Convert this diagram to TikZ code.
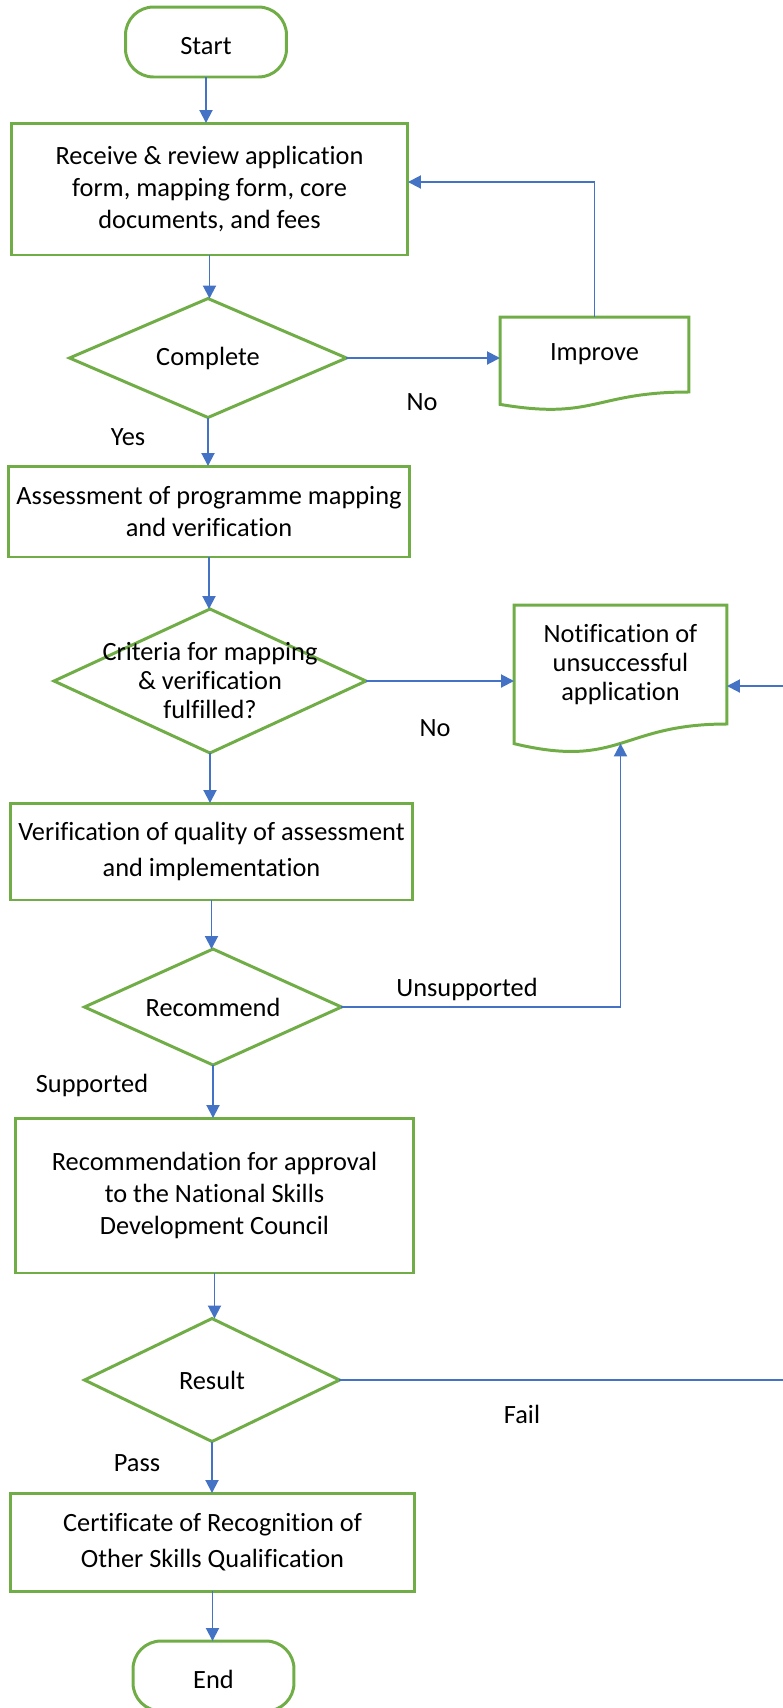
\documentclass[tikz,border=0pt]{standalone}
\usepackage{fontspec}
\setmainfont{Carlito}[Ligatures=CommonOff]
\usepackage{tikz}
\usetikzlibrary{arrows.meta,calc,shapes.geometric,positioning}
\definecolor{fgreen}{HTML}{70AD47}
\definecolor{fblue}{HTML}{4472C4}
\tikzset{
	flow chart/.style={
		x=0.02cm, y=-0.02cm,
		font=\fontsize{15}{18}\selectfont,
		every node/.style={align=center, outer sep=0pt},
		ar/.style={draw=fblue, line width=1.1pt, -{Triangle[length=0.26cm,width=0.26cm]}}
		},
	bx/.style={draw=fgreen, line width=1.7pt, inner sep=1pt},
	tm/.style={bx, rounded corners=0.56cm, minimum width=3.22cm, minimum height=1.4cm,
		text height=14pt, text depth=0pt},
	dm/.style={diamond, draw=fgreen, line width=1.7pt, inner sep=0pt},
	doc/.style={inner sep=1pt,
		prefix after command={\pgfextra{\let\fixname\tikzlastnode}},
		append after command={\pgfextra{\draw[fgreen, line width=1.7pt]
			(\fixname.north west) -- (\fixname.north east) -- (\fixname.south east)
			.. controls (\fixname.south) and ($(\fixname.north)!1.38!(\fixname.south)$)
			.. ($(\fixname.north west)!1.165!(\fixname.south west)$) coordinate[pos=.5] (\fixname-w)
			-- cycle;}}},
	tight/.style={font=\fontsize{15}{16.5}\selectfont},
	loose/.style={font=\fontsize{15}{20.5}\selectfont},
	note/.style={inner sep=0pt}
}
\begin{document}
\begin{tikzpicture}[flow chart]
	\useasboundingbox (0,0) rectangle (783,1708);
	\node[tm] (T1) at (206,42) {Start};
	\node[bx, minimum width=7.94cm, minimum height=2.64cm] (B1) at (209.5,189) {Receive \& review application\\ form, mapping form, core\\ documents, and fees};
	\node[dm, minimum width=5.54cm, minimum height=2.38cm, label=center:Complete] (D1) at (208,358) {};
	\node[doc, minimum width=3.78cm, minimum height=1.5cm] (P1) at (594.5,354.5) {Improve};
	\node[bx, minimum width=8.04cm, minimum height=1.82cm] (B2) at (209,511.5) {Assessment of programme mapping\\ and verification};
	\node[dm, minimum width=6.24cm, minimum height=2.88cm, label={[tight]center:Criteria for mapping\\ \& verification\\ fulfilled?}] (D2) at (210,681) {};
	\node[doc, tight, minimum width=4.26cm, minimum height=2.38cm] (P2) at (620.5,664.5) {Notification of\\ unsuccessful\\ application};
	\node[bx, loose, minimum width=8.06cm, minimum height=1.94cm] (B3) at (211.5,851.5) {Verification of quality of assessment\\ and implementation};
	\node[dm, minimum width=5.14cm, minimum height=2.32cm, label=center:Recommend] (D3) at (213,1007) {};
	\node[bx, minimum width=7.98cm, minimum height=3.1cm] (B4) at (214.5,1195.5) {Recommendation for approval\\ to the National Skills\\ Development Council};
	\node[dm, minimum width=5.1cm, minimum height=2.46cm, label=center:Result] (D4) at (212,1380) {};
	\node[bx, loose, minimum width=8.1cm, minimum height=1.96cm] (B5) at (212.5,1542) {Certificate of Recognition of\\ Other Skills Qualification};
	\node[tm] (T2) at (213.5,1676) {End};

	\foreach \a/\b in {T1/B1, B1/D1, D1/B2, B2/D2, D2/B3, B3/D3, D3/B4, B4/D4, D4/B5, B5/T2}
		\draw[ar] (\a) -- (\a |- \b.north);
	\draw[ar] (D1.east) -- (D1.east -| P1.west);
	\draw[ar] (P1.north) |- ([yshift=0.14cm]B1.east);
	\draw[ar] (D2.east) -- (D2.east -| P2.west);
	\draw[ar] (D3.east) -| (P2-w);
	\coordinate (K1) at (800,686);
	\draw[ar] (D4.east) -| (K1) -- (K1 -| P2.east);

	\node[note] (No1) at (422,402) {No};
	\node[note] (Yes1) at (128,437) {Yes};
	\node[note] (No2) at (435,728) {No};
	\node[note] (Uns1) at (467,989) {Unsupported};
	\node[note] (Sup1) at (92,1085) {Supported};
	\node[note] (Fail1) at (522,1414) {Fail};
	\node[note] (Pass1) at (137,1463) {Pass};
\end{tikzpicture}
\end{document}
